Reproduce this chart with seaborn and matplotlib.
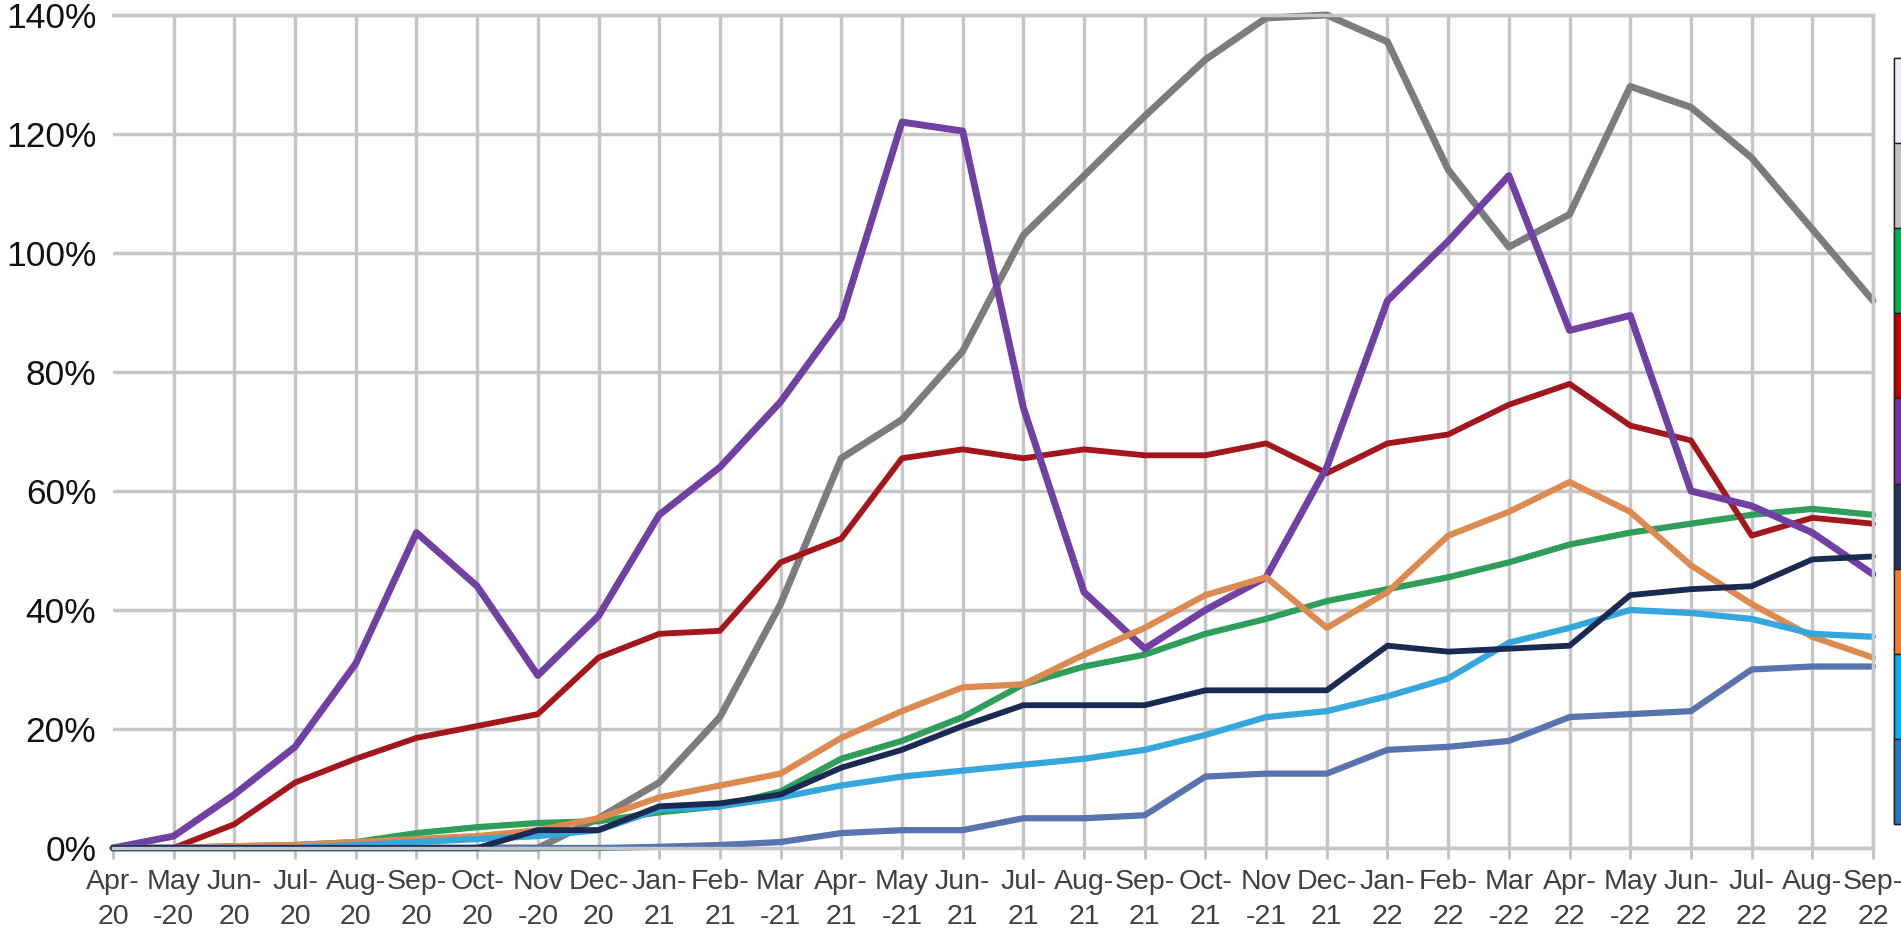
import numpy as np
import pandas as pd
import matplotlib
matplotlib.use("Agg")
import matplotlib.pyplot as plt
from matplotlib.patches import Patch
from matplotlib.ticker import PercentFormatter
import seaborn as sns

months = ["Apr-\n20", "May\n-20", "Jun-\n20", "Jul-\n20", "Aug-\n20", "Sep-\n20", "Oct-\n20",
          "Nov\n-20", "Dec-\n20", "Jan-\n21", "Feb-\n21", "Mar\n-21", "Apr-\n21", "May\n-21",
          "Jun-\n21", "Jul-\n21", "Aug-\n21", "Sep-\n21", "Oct-\n21", "Nov\n-21", "Dec-\n21",
          "Jan-\n22", "Feb-\n22", "Mar\n-22", "Apr-\n22", "May\n-22", "Jun-\n22", "Jul-\n22",
          "Aug-\n22", "Sep-\n22"]

# values in percent
gray = [0, 0, 0, 0, 0, 0, 0, 0, 5, 11, 22, 41, 65.5, 72, 83.5, 103, 113, 123, 132.5, 139.5,
        140, 135.5, 114, 101, 106.5, 128, 124.5, 116, 104, 92]
green = [0, 0, 0.3, 0.5, 1, 2.5, 3.5, 4.2, 4.5, 6, 7, 9.5, 15, 18, 22, 27.5, 30.5, 32.5, 36,
         38.5, 41.5, 43.5, 45.5, 48, 51, 53, 54.5, 56, 57, 56]
red = [0, 0, 4, 11, 15, 18.5, 20.5, 22.5, 32, 36, 36.5, 48, 52, 65.5, 67, 65.5, 67, 66, 66,
       68, 63, 68, 69.5, 74.5, 78, 71, 68.5, 52.5, 55.5, 54.5]
purple = [0, 2, 9, 17, 31, 53, 44, 29, 39, 56, 64, 75, 89, 122, 120.5, 74, 43, 33.5, 40, 45.5,
          64, 92, 102, 113, 87, 89.5, 60, 57.5, 53, 46]
navy = [0, 0, 0, 0, 0, 0, 0, 3, 3, 7, 7.5, 9, 13.5, 16.5, 20.5, 24, 24, 24, 26.5, 26.5, 26.5,
        34, 33, 33.5, 34, 42.5, 43.5, 44, 48.5, 49]
orange = [0, 0, 0.3, 0.5, 1, 1.5, 2, 3, 5, 8.5, 10.5, 12.5, 18.5, 23, 27, 27.5, 32.5, 37, 42.5,
          45.5, 37, 43, 52.5, 56.5, 61.5, 56.5, 47.5, 41, 35.5, 32]
cyan = [0, 0, 0, 0, 0.5, 1, 1.5, 2, 3, 6.5, 7, 8.5, 10.5, 12, 13, 14, 15, 16.5, 19, 22, 23,
        25.5, 28.5, 34.5, 37, 40, 39.5, 38.5, 36, 35.5]
blue = [0, 0, 0, 0, 0, 0, 0, 0, 0, 0.2, 0.5, 1, 2.5, 3, 3, 5, 5, 5.5, 12, 12.5, 12.5, 16.5,
        17, 18, 22, 22.5, 23, 30, 30.5, 30.5]

series = {"S2": gray, "S3": green, "S4": red, "S5": purple, "S7": orange,
          "S8": cyan, "S9": blue, "S6": navy}
line_colors = {"S2": "#7c7c7c", "S3": "#2f9e5a", "S4": "#a3161c", "S5": "#7140a3",
               "S6": "#1b2a52", "S7": "#dc8a50", "S8": "#35a7dc", "S9": "#5873ad"}
line_widths = {"S2": 5.0, "S3": 4.5, "S4": 4.2, "S5": 5.0, "S6": 4.2, "S7": 4.5,
               "S8": 4.5, "S9": 4.5}

legend_names = ["S1", "S2", "S3", "S4", "S5", "S6", "S7", "S8", "S9"]
legend_colors = ["#eceef8", "#c0c0c0", "#00b050", "#c00000", "#7030a0", "#1f3864",
                 "#ed7d31", "#00b0f0", "#2e75b6"]

rows = []
for name, vals in series.items():
    for i, v in enumerate(vals):
        rows.append({"series": name, "idx": i, "value": v / 100.0})
df = pd.DataFrame(rows)

sns.set_theme(style="white")
plt.rcParams["font.family"] = ["Liberation Sans", "DejaVu Sans"]

fig = plt.figure(figsize=(19.01, 9.32), dpi=100)
ax = fig.add_axes([113 / 1901, 1 - 848 / 932, (1873 - 113) / 1901, (848 - 15) / 932])

for name in series:
    sub = df[df["series"] == name]
    sns.lineplot(data=sub, x="idx", y="value", color=line_colors[name],
                 linewidth=line_widths[name], ax=ax, legend=False, clip_on=False,
                 solid_joinstyle="round")

ax.set_xlim(0, len(months) - 1)
ax.set_ylim(0, 1.4)
ax.set_xticks(range(len(months)))
ax.set_xticklabels(months, fontsize=20.5, color="#404040", linespacing=1.45)
ax.set_yticks(np.arange(0, 1.41, 0.2))
ax.yaxis.set_major_formatter(PercentFormatter(1.0, decimals=0))
ax.tick_params(axis="y", labelsize=25.5, labelcolor="#111111", length=0, pad=12)
ax.tick_params(axis="x", length=8, width=2, color="#c0c0c0", pad=7, direction="out",
               bottom=True)
ax.set_xlabel("")
ax.set_ylabel("")
ax.grid(True, color="#c6c6c6", linewidth=2.5)
ax.set_axisbelow(True)
for s in ["top", "right", "bottom"]:
    ax.spines[s].set_visible(True)
    ax.spines[s].set_color("#c6c6c6")
    ax.spines[s].set_linewidth(2.5)
ax.spines["left"].set_visible(False)
ax.get_xgridlines()[0].set_visible(False)

handles = [Patch(facecolor=c, edgecolor="#222222", linewidth=1.0) for c in legend_colors]
fig.legend(handles, ["" for _ in legend_names], loc="upper left",
           bbox_to_anchor=(1894 / 1901, 1 - 58 / 932), bbox_transform=fig.transFigure,
           fontsize=10, handlelength=4, handleheight=9.05, labelspacing=0.0,
           borderpad=0.0, borderaxespad=0.0, handletextpad=0.2, frameon=True,
           edgecolor="#000000", fancybox=False, framealpha=1)

fig.savefig("out.png", dpi=100)
